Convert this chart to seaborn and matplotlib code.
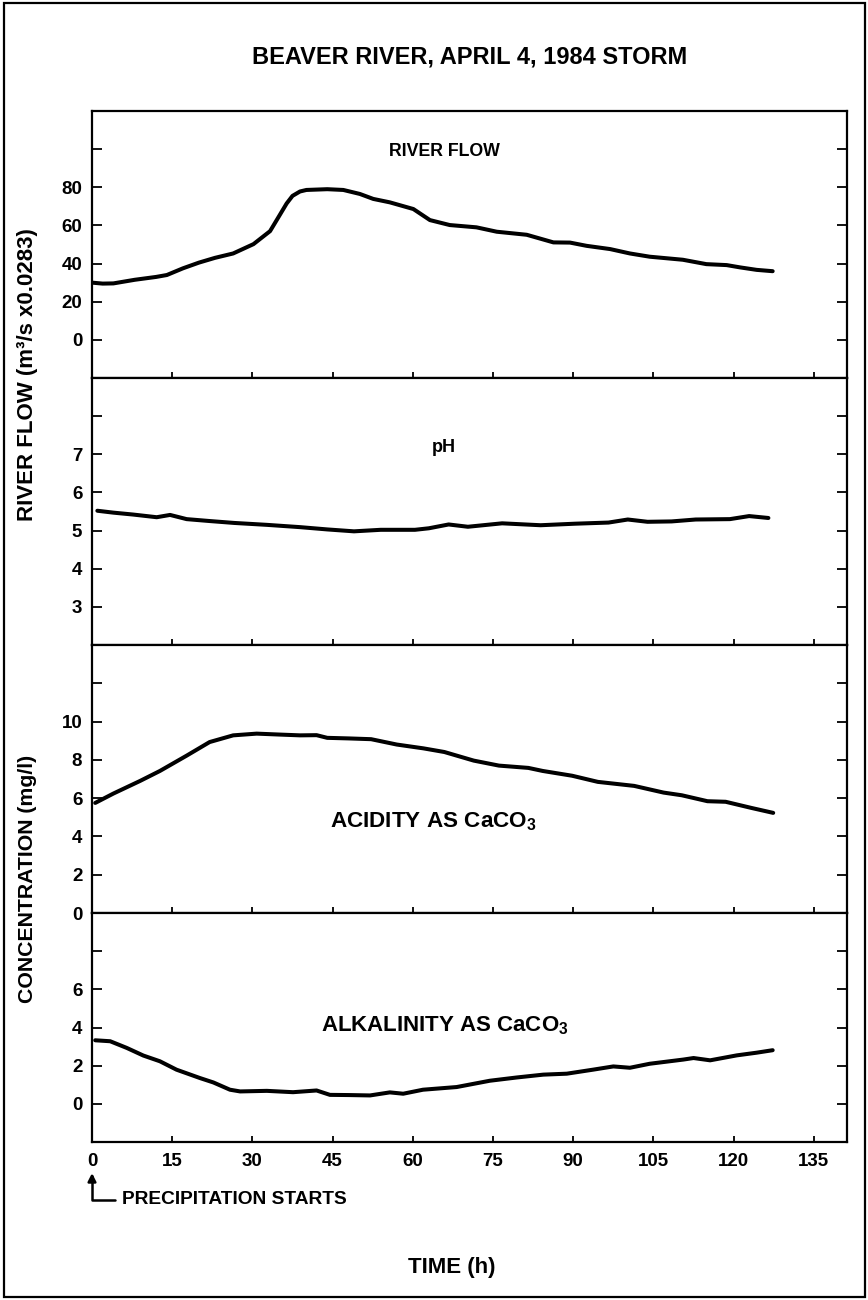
import matplotlib
matplotlib.use("Agg")
import matplotlib.pyplot as plt
import seaborn as sns
from matplotlib.patches import Rectangle

# values (time in hours)
flow_hours = [0, 2, 4, 8, 12, 14, 17, 20, 23, 26.4, 30.2, 33.3, 34.8, 36.4, 37.5,
              38.9, 40.1, 44, 47, 50.1, 52.6, 55.7, 60.1, 63.2, 66.9, 71.9, 75.7,
              81.3, 86.3, 89.4, 92.5, 96.9, 100.6, 104.3, 110.5, 114.9, 118.7,
              121.2, 124.3, 127.3]
flow = [30, 29.5, 29.6, 31.5, 33, 34, 37.5, 40.5, 43, 45.3, 50.2, 57, 64, 71.5,
        75.5, 77.8, 78.6, 79, 78.6, 76.5, 73.9, 72.1, 68.6, 62.8, 60.2, 59, 56.7,
        55.1, 51.1, 51, 49.3, 47.6, 45.3, 43.6, 42, 39.7, 39.2, 38, 36.7, 36]

ph_hours = [1, 4, 7.7, 12.1, 14.6, 17.7, 22, 26.6, 32.7, 38.9, 44, 49, 54, 60.4,
            63, 66.7, 70.3, 76.7, 83.9, 90.3, 96.6, 100.2, 103.9, 108.4, 112.9,
            119.3, 122.9, 126.5]
ph = [5.52, 5.47, 5.42, 5.35, 5.41, 5.3, 5.25, 5.2, 5.15, 5.09, 5.03, 4.98, 5.02,
      5.02, 5.06, 5.16, 5.1, 5.19, 5.14, 5.18, 5.21, 5.29, 5.23, 5.24, 5.29, 5.3,
      5.38, 5.33]

acid_hours = [0.6, 4, 9, 12.7, 17.7, 22, 26.4, 30.8, 35.2, 38.9, 42, 44, 48, 52.2,
              57, 62, 65.9, 71.4, 76.1, 81.6, 84.3, 89.8, 94.6, 101.4, 106.9,
              110.3, 115.1, 118.5, 123.3, 127.4]
acidity = [5.75, 6.24, 6.9, 7.42, 8.22, 8.93, 9.28, 9.37, 9.32, 9.28, 9.29, 9.15,
           9.12, 9.08, 8.8, 8.6, 8.41, 7.96, 7.7, 7.58, 7.42, 7.17, 6.85, 6.64,
           6.29, 6.15, 5.84, 5.81, 5.49, 5.23]

alk_hours = [0.6, 3.4, 6.5, 9.6, 12.7, 15.8, 20.2, 22.7, 25.8, 27.7, 32.7, 37.6,
             42, 44.5, 48, 52, 55.7, 58.2, 61.9, 68.2, 74.4, 79.4, 84.4, 88.8,
             93.7, 97.5, 100.6, 104.3, 110.6, 112.5, 115.6, 120.6, 124.3, 127.3]
alkalinity = [3.33, 3.28, 2.93, 2.53, 2.23, 1.79, 1.35, 1.12, 0.74, 0.65, 0.68,
              0.61, 0.70, 0.47, 0.46, 0.44, 0.6, 0.53, 0.74, 0.88, 1.21, 1.38,
              1.53, 1.58, 1.79, 1.96, 1.89, 2.1, 2.32, 2.4, 2.28, 2.54, 2.68, 2.81]

time_ticks = [0, 15, 30, 45, 60, 75, 90, 105, 120, 135]

# per panel: y limits, tick positions, which ticks get a label
panels = [
    (flow_hours, flow, (-20, 120), [0, 20, 40, 60, 80, 100], ["0", "20", "40", "60", "80", ""]),
    (ph_hours, ph, (2, 9), [3, 4, 5, 6, 7, 8], ["3", "4", "5", "6", "7", ""]),
    (acid_hours, acidity, (0, 14), [0, 2, 4, 6, 8, 10, 12], ["0", "2", "4", "6", "8", "10", ""]),
    (alk_hours, alkalinity, (-2, 10), [0, 2, 4, 6, 8], ["0", "2", "4", "6", ""]),
]

sns.set_theme(style="ticks")
plt.rcParams["font.family"] = ["Liberation Sans", "DejaVu Sans"]
plt.rcParams["font.weight"] = "bold"
plt.rcParams["text.color"] = "black"
plt.rcParams["mathtext.fontset"] = "custom"
plt.rcParams["mathtext.rm"] = "Liberation Sans:bold"

W, H = 868, 1300
fig = plt.figure(figsize=(W / 100, H / 100), dpi=100)
axes = fig.subplots(4, 1, sharex=True,
                    gridspec_kw=dict(height_ratios=[267, 267, 268, 229], hspace=0))
fig.subplots_adjust(left=92 / W, right=847 / W, top=1 - 111 / H, bottom=1 - 1142 / H)

for ax, (xs, ys, lim, ticks, labels) in zip(axes, panels):
    sns.lineplot(x=xs, y=ys, ax=ax, color="black", lw=2.9)
    ax.set_ylim(*lim)
    ax.set_yticks(ticks)
    ax.set_yticklabels(labels)
    ax.set_xlim(0, 141.2)
    ax.set_xticks(time_ticks)
    ax.tick_params(axis="y", direction="in", length=7, width=1.3, right=True,
                   labelsize=13.5, pad=7, colors="black")
    ax.tick_params(axis="x", direction="in", length=4.5, width=1.3,
                   labelsize=13.5, pad=8, colors="black")
    for s in ax.spines.values():
        s.set_linewidth(1.6)
        s.set_color("black")
    ax.set_xlabel("")
    ax.set_ylabel("")

# panel captions
fig.text(444 / W, 1 - 152 / H, "RIVER FLOW", ha="center", va="center", fontsize=12.8)
fig.text(444 / W, 1 - 447 / H, "pH", ha="center", va="center", fontsize=13)
fig.text(433 / W, 1 - 822 / H, "ACIDITY AS CaCO$_3$", ha="center", va="center", fontsize=16.2)
fig.text(445 / W, 1 - 1026 / H, "ALKALINITY AS CaCO$_3$", ha="center", va="center", fontsize=16)

# axis titles
fig.text(28 / W, 1 - 375 / H, "RIVER FLOW (m³/s x0.0283)", rotation=90,
         ha="center", va="center", fontsize=16)
fig.text(28 / W, 1 - 879 / H, "CONCENTRATION (mg/l)", rotation=90,
         ha="center", va="center", fontsize=15.3)
fig.text(470 / W, 1 - 57 / H, "BEAVER RIVER, APRIL 4, 1984 STORM",
         ha="center", va="center", fontsize=17)
fig.text(452 / W, 1 - 1268 / H, "TIME (h)", ha="center", va="center", fontsize=16)

axes[3].annotate("PRECIPITATION STARTS", xy=(0, 1 - 1173 / H),
                 xycoords=("data", "figure fraction"),
                 xytext=(122 / W, 1 - 1200 / H), textcoords="figure fraction",
                 ha="left", va="center", fontsize=13.8,
                 arrowprops=dict(arrowstyle="-|>", color="black", lw=1.8,
                                 connectionstyle="angle,angleA=0,angleB=90,rad=0",
                                 shrinkA=3, shrinkB=0, mutation_scale=12))

# outer frame round the whole figure
fig.add_artist(Rectangle((4 / W, 3 / H), 861 / W, 1294 / H, transform=fig.transFigure,
                         fill=False, lw=1.6, color="black"))

fig.savefig("out.png", dpi=100)
